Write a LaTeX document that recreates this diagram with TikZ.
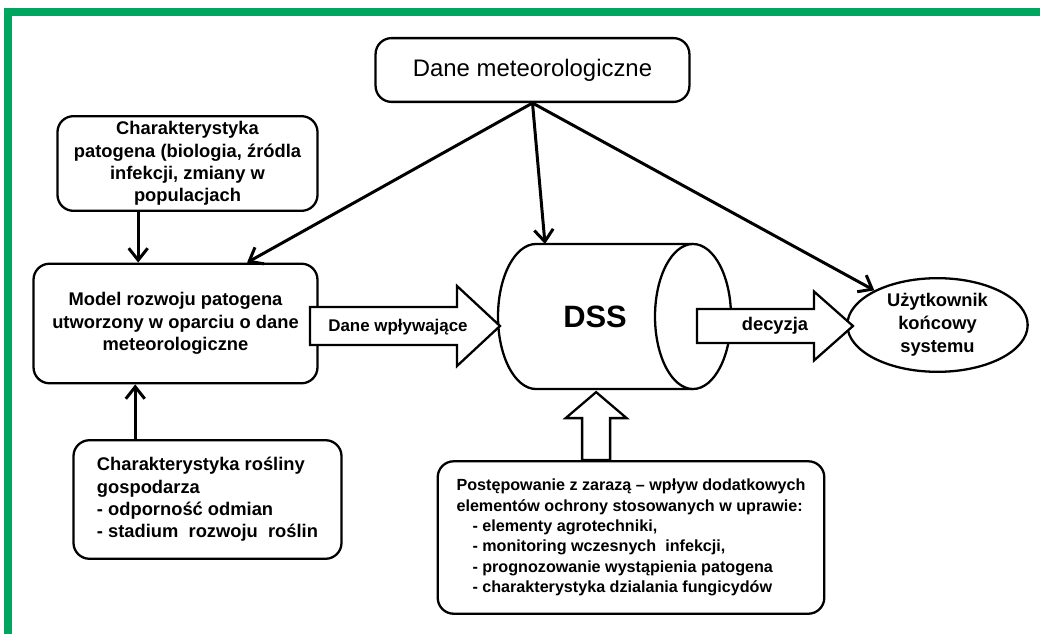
\documentclass[tikz,border=0pt]{standalone}
\usepackage{fontspec}
\setmainfont{Liberation Sans}
\usetikzlibrary{arrows.meta,calc,positioning,shapes.geometric}

\definecolor{ramka}{RGB}{0,166,96}

\tikzset{
  blok/.style={draw, line width=2.3pt, rounded corners=16pt, fill=white,
    inner sep=0pt, font=\bfseries\fontsize{18.4}{22.5}\selectfont},
  strz/.style={line width=3pt, -{Straight Barb[length=12pt,width=19pt]}},
  gruba/.style={draw, line width=2.3pt, fill=white, line join=miter},
  opis/.style={font=\bfseries\fontsize{18.4}{22.5}\selectfont},
  pics/grubastrz/.style n args={4}{code={
    \path[gruba] (0,-#2) -- ({#1-#4},-#2) -- ({#1-#4},-#3) -- (#1,0)
      -- ({#1-#4},#3) -- ({#1-#4},#2) -- (0,#2) -- cycle;
  }},
}

\begin{document}
\begin{tikzpicture}[x=1bp, y=-1bp]
\useasboundingbox (0,0) rectangle (1040,634);
% ramka
\fill[ramka] (4,8) rectangle (1040,16);
\fill[ramka] (4,8) rectangle (12,634);

% DSS - walec
\path[gruba] (693,389) -- (536,389)
  arc[start angle=90, end angle=270, x radius=38, y radius=72.5] -- (693,244);
\draw[line width=2.3pt, fill=white] (693,316.5) ellipse [x radius=38, y radius=72.5];
\node[font=\bfseries\fontsize{31}{36}\selectfont] (dss) at (595,317) {DSS};
\coordinate (dssgora) at (545,244);

% bloki
\node[blok, minimum width=315, minimum height=64,
  font=\fontsize{24}{28}\selectfont] (meteo) at (532.5,70) {Dane meteorologiczne};
\node[blok, minimum width=261, minimum height=95, align=center] (patogen) at (187.5,163.5)
  {Charakterystyka\\patogena (biologia, źródla\\infekcji, zmiany w\\populacjach};
\node[blok, minimum width=285, minimum height=120, align=center] (model) at (175.5,323.5)
  {Model rozwoju patogena\\utworzony w oparciu o dane\\meteorologiczne};
\node[blok, minimum width=269, minimum height=119, align=left] (roslina) at (207.5,499.5)
  {Charakterystyka rośliny\\gospodarza\\- odporność odmian\\- stadium\ \ rozwoju\ \ roślin};
\node[blok, minimum width=388, minimum height=153, align=left,
  font=\bfseries\fontsize{16.2}{20.4}\selectfont] (postep) at (631,537.5)
  {Postępowanie z zarazą -- wpływ dodatkowych\\
   elementów ochrony stosowanych w uprawie:\\
   \hspace*{16pt}- elementy agrotechniki,\\
   \hspace*{16pt}- monitoring wczesnych\ \ infekcji,\\
   \hspace*{16pt}- prognozowanie wystąpienia patogena\\
   \hspace*{16pt}- charakterystyka dzialania fungicydów};
\node[draw, ellipse, line width=2.3pt, fill=white, minimum width=181, minimum height=94,
  inner sep=0pt, align=center, font=\bfseries\fontsize{18.4}{23}\selectfont] (uzyt) at (937.5,325)
  {Użytkownik\\końcowy\\systemu};

% grube strzalki
\pic at (310,326) {grubastrz={190}{19}{40}{43}};
\node[opis, font=\bfseries\fontsize{17}{20}\selectfont] (wplyw) at (398,327) {Dane wpływające};
\pic at (697,326) {grubastrz={156}{17}{34.5}{39}};
\node[opis] (decyzja) at (775,326) {decyzja};
\pic[rotate=90] at ([xshift=-35pt]postep.north) {grubastrz={68}{14}{30.5}{26}};

% cienkie strzalki
\draw[strz] (meteo.south) -- ($(model.north)!0.5!(model.north east)$);
\draw[strz] (meteo.south) -- (dssgora);
\draw[strz] (meteo.south) -- (uzyt);
\draw[strz] ([xshift=-49.5pt]patogen.south) -- ([xshift=-49.5pt]patogen.south |- model.north);
\draw[strz] ([xshift=-72.5pt]roslina.north) -- ([xshift=-72.5pt]roslina.north |- model.south);
\end{tikzpicture}
\end{document}
